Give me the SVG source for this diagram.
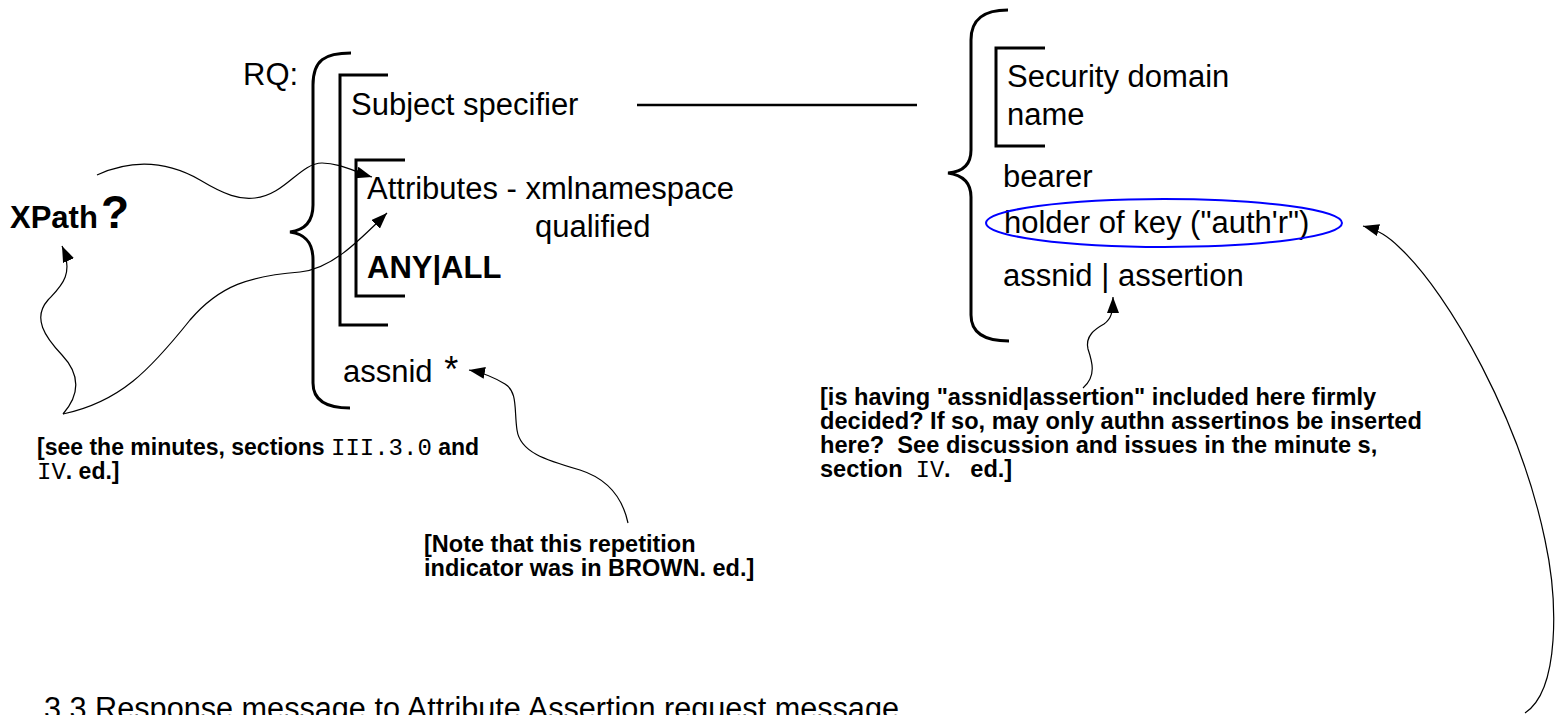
<svg xmlns="http://www.w3.org/2000/svg" width="1565" height="715" viewBox="0 0 1565 715">
<style>
.t{font-family:"Liberation Sans",Arial,sans-serif;font-size:31px;fill:#000}
.b{font-weight:bold}
.n{font-family:"Liberation Sans",Arial,sans-serif;font-size:23.6px;font-weight:bold;fill:#000;white-space:pre}
.m{font-family:"Liberation Mono","Courier New",monospace;font-weight:normal}
.br{fill:none;stroke:#000;stroke-width:3}
.c{fill:none;stroke:#000;stroke-width:1.2}
</style>
<defs>
<marker id="ah" viewBox="0 0 16 12" refX="16" refY="6" markerWidth="16" markerHeight="12" markerUnits="userSpaceOnUse" orient="auto">
<path d="M0,0 L16,6 L0,12 z" fill="#000"/>
</marker>
</defs>
<rect width="1565" height="715" fill="#fff"/>
<g id="rq">
<text class="t" x="243" y="85">RQ:</text>
<path class="br" d="M351,53 C325,53 313,60 313,85 L313,205 C313,222 305,230 290,232 C305,234 313,242 313,260 L313,383 C313,400 325,408 350,408"/>
</g>
<g id="subject-group">
<polyline class="br" points="388,75 340,75 340,325 388,325"/>
<text class="t" x="351" y="115">Subject specifier</text>
</g>
<g id="attributes">
<polyline class="br" points="405,160 356,160 356,296 405,296"/>
<text class="t" x="367" y="199">Attributes - xmlnamespace</text>
<text class="t" x="535" y="237">qualified</text>
<text class="t b" x="367" y="278">ANY|ALL</text>
</g>
<g id="assnid">
<text class="t" x="343" y="382">assnid <tspan dx="3" style="font-size:36px">*</tspan></text>
</g>
<g id="xpath">
<text class="t b" x="10" y="228">XPath</text>
<text class="t b" x="101" y="228" style="font-size:46px">?</text>
</g>
<g id="security">
<path class="br" d="M1008,10 C985,10 971,18 971,40 L971,150 C971,165 962,172 948,173 C962,175 971,182 971,197 L971,315 C971,333 985,341 1009,341"/>
<polyline class="br" points="1045,48 996,48 996,146 1045,146"/>
<text class="t" x="1007" y="87">Security domain</text>
<text class="t" x="1007" y="125">name</text>
<text class="t" x="1003" y="187">bearer</text>
<text class="t" x="1004" y="233">holder of key ("auth'r")</text>
<ellipse cx="1164" cy="223" rx="178" ry="24" fill="none" stroke="#0000ff" stroke-width="2"/>
<text class="t" x="1003" y="286">assnid | assertion</text>
</g>
<g id="note-minutes">
<text class="n" x="37" y="455" style="font-size:23px">[see the minutes, sections <tspan class="m" style="font-size:24px">III.3.0</tspan> and</text>
<text class="n" x="37" y="479" style="font-size:23px"><tspan class="m" style="font-size:24px">IV</tspan>. ed.]</text>
</g>
<g id="note-brown">
<text class="n" x="424" y="552" style="font-size:23.5px">[Note that this repetition</text>
<text class="n" x="424" y="576" style="font-size:23.5px">indicator was in BROWN. ed.]</text>
</g>
<g id="note-assertion">
<text class="n" x="820" y="405">[is having "assnid|assertion" included here firmly</text>
<text class="n" x="820" y="429">decided? If so, may only authn assertinos be inserted</text>
<text class="n" x="820" y="453">here?  See discussion and issues in the minute s,</text>
<text class="n" x="820" y="477">section  <tspan class="m">IV</tspan>.   ed.]</text>
</g>
<g id="heading">
<text class="t" x="44" y="719" textLength="855" lengthAdjust="spacingAndGlyphs">3.3  Response message to Attribute Assertion request message</text>
</g>
<g id="connectors">
<path d="M637,105 L917,105" fill="none" stroke="#000" stroke-width="2.5"/>
<path class="c" marker-end="url(#ah)" d="M97,175 C130,160 165,160 200,180 C225,195 240,200 255,198 C285,195 300,163 322,163 C340,163 355,172 372,177"/>
<path class="c" marker-end="url(#ah)" d="M63,414 C120,402 150,370 190,320 C220,285 250,276 300,272 C330,269 355,245 387,213"/>
<path class="c" marker-end="url(#ah)" d="M63,414 C82,392 78,372 62,355 C45,337 32,318 48,300 C60,287 75,275 62,246"/>
<path class="c" marker-end="url(#ah)" d="M628,523 C622,495 605,478 580,470 C545,460 520,452 517,430 C514,410 518,392 505,384 C495,378 485,373 469,370"/>
<path class="c" marker-end="url(#ah)" d="M1083,388 C1097,376 1092,361 1088,349 C1085,336 1095,329 1104,324 C1111,319 1113,313 1113,297"/>
<path class="c" marker-end="url(#ah)" d="M1525,713 C1560,690 1558,600 1545,540 C1520,420 1450,295 1400,248 C1388,236 1378,230 1363,226"/>
</g>
</svg>
